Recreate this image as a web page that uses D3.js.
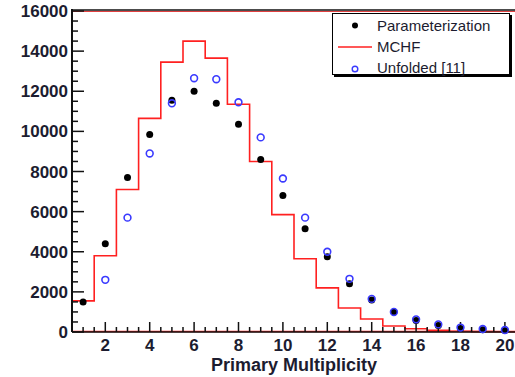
<!DOCTYPE html>
<html>
<head>
<meta charset="utf-8">
<script src="https://cdn.jsdelivr.net/npm/d3@7"></script>
<style>
  body { margin: 0; background: #fff; }
  text { font-family: "Liberation Sans", Arial, sans-serif; }
</style>
</head>
<body>
<svg width="515" height="377"></svg>
<script>
// Multiplicity bins
const mult = [1, 2, 3, 4, 5, 6, 7, 8, 9, 10, 11, 12, 13, 14, 15, 16, 17, 18, 19, 20];
// Parameterization (black dots)
const param = [1500, 4400, 7700, 9850, 11550, 12000, 11400, 10350, 8600, 6800, 5150, 3750, 2400, 1600, 1000, 570, 320, 170, 110, 70];
// MCHF histogram (red)
const mchf = [1550, 3800, 7100, 10650, 13450, 14500, 13650, 11350, 8500, 5850, 3650, 2200, 1200, 650, 300, 160, 90, 40, 20, 10];
// Unfolded [11] (blue open circles), starts at multiplicity 2
const unfMult = [2, 3, 4, 5, 6, 7, 8, 9, 10, 11, 12, 13, 14, 15, 16, 17, 18, 19, 20];
const unfolded = [2600, 5700, 8900, 11400, 12650, 12600, 11450, 9700, 7650, 5700, 4000, 2650, 1650, 1000, 630, 380, 220, 150, 100];

const xTicks = [2, 4, 6, 8, 10, 12, 14, 16, 18, 20];
const yTicks = [0, 2000, 4000, 6000, 8000, 10000, 12000, 14000, 16000];

const svg = d3.select("svg");
const margin = {top: 11, right: -1, bottom: 45, left: 72};
const width = 515, height = 377;
const txt = "#1c1c30";

const x = d3.scaleLinear().domain([0.5, 20.5]).range([margin.left, width - margin.right]);
const y = d3.scaleLinear().domain([0, 16000]).range([height - margin.bottom, margin.top]);

// histogram (drawn first, under axes)
const edges = mult.map((m, i) => ({x: m - 0.5, v: mchf[i]}));
edges.push({x: 20.5, v: mchf[mchf.length - 1]});
const step = d3.line().x(d => x(d.x)).y(d => y(d.v)).curve(d3.curveStepAfter);
svg.append("path").datum(edges)
  .attr("fill", "none").attr("stroke", "#ff2020").attr("stroke-width", 1.6)
  .attr("d", step);
// red baseline and top line
svg.append("line").attr("x1", x(0.5)).attr("x2", x(20.5)).attr("y1", y(0) - 0.5).attr("y2", y(0) - 0.5)
  .attr("stroke", "#ff2020").attr("stroke-width", 1.6);
svg.append("line").attr("x1", x(0.5)).attr("x2", x(20.5)).attr("y1", y(16000) + 0.5).attr("y2", y(16000) + 0.5)
  .attr("stroke", "#e04040").attr("stroke-width", 1);

// frame top
svg.append("line").attr("x1", x(0.5)).attr("x2", width).attr("y1", y(16000) - 1).attr("y2", y(16000) - 1)
  .attr("stroke", "#111").attr("stroke-width", 1.5);

// Y axis: ticks inward
const yAxis = svg.append("g").attr("transform", `translate(${x(0.5)},0)`);
yAxis.append("line").attr("x1", 0).attr("x2", 0).attr("y1", y(0)).attr("y2", y(16000) - 2)
  .attr("stroke", "#111").attr("stroke-width", 2);
yAxis.selectAll("line.minor").data(d3.range(0, 16001, 500)).join("line")
  .attr("class", "minor")
  .attr("x1", 0).attr("x2", d => d % 2000 === 0 ? 12 : 6)
  .attr("y1", d => y(d)).attr("y2", d => y(d))
  .attr("stroke", "#111").attr("stroke-width", 1.5);
yAxis.selectAll("text").data(yTicks).join("text")
  .attr("x", -4).attr("y", d => y(d)).attr("dy", "0.36em")
  .attr("text-anchor", "end").attr("font-size", "17px").attr("font-weight", "bold")
  .attr("fill", txt).text(d => d);

// X axis: ticks upward
const xAxis = svg.append("g").attr("transform", `translate(0,${y(0)})`);
xAxis.append("line").attr("x1", x(0.5)).attr("x2", width).attr("y1", 0).attr("y2", 0)
  .attr("stroke", "#111").attr("stroke-width", 1.5);
xAxis.selectAll("line.tick").data(d3.range(1, 41).map(d => d / 2)).join("line")
  .attr("class", "tick")
  .attr("x1", d => x(d)).attr("x2", d => x(d))
  .attr("y1", 0).attr("y2", d => d % 2 === 0 ? -10 : -5)
  .attr("stroke", "#111").attr("stroke-width", 1.5);
xAxis.selectAll("text").data(xTicks).join("text")
  .attr("x", d => x(d)).attr("y", 19)
  .attr("text-anchor", "middle").attr("font-size", "17px").attr("font-weight", "bold")
  .attr("fill", txt).text(d => d);

svg.append("text")
  .attr("x", (x(0.5) + x(20.5)) / 2).attr("y", 371)
  .attr("text-anchor", "middle").attr("font-size", "18px").attr("font-weight", "bold")
  .attr("fill", txt).text("Primary Multiplicity");

// Points
svg.append("g").selectAll("circle").data(mult).join("circle")
  .attr("cx", d => x(d)).attr("cy", (d, i) => y(param[i])).attr("r", 3.5)
  .attr("fill", "#000");
svg.append("g").selectAll("circle").data(unfMult).join("circle")
  .attr("cx", d => x(d)).attr("cy", (d, i) => y(unfolded[i])).attr("r", 3.4)
  .attr("fill", "none").attr("stroke", "#3a3aff").attr("stroke-width", 1.6);

// Legend
const legend = svg.append("g").attr("transform", "translate(332,13)");
legend.append("rect").attr("x", 2).attr("y", 2).attr("width", 178).attr("height", 62).attr("fill", "#000");
legend.append("rect").attr("x", 0.5).attr("y", 0.5).attr("width", 177).attr("height", 61)
  .attr("fill", "#fff").attr("stroke", "#000").attr("stroke-width", 1);
legend.append("circle").attr("cx", 23).attr("cy", 12.5).attr("r", 3).attr("fill", "#000");
legend.append("line").attr("x1", 6).attr("x2", 40).attr("y1", 34).attr("y2", 34)
  .attr("stroke", "#ff2020").attr("stroke-width", 1.6);
legend.append("circle").attr("cx", 23).attr("cy", 56).attr("r", 2.8)
  .attr("fill", "none").attr("stroke", "#3a3aff").attr("stroke-width", 1.4);
const labels = ["Parameterization", "MCHF", "Unfolded [11]"];
legend.selectAll("text.lbl").data(labels).join("text")
  .attr("class", "lbl")
  .attr("x", 45).attr("y", (d, i) => 18 + i * 21)
  .attr("font-size", "15px").attr("fill", txt).text(d => d);
</script>
</body>
</html>
